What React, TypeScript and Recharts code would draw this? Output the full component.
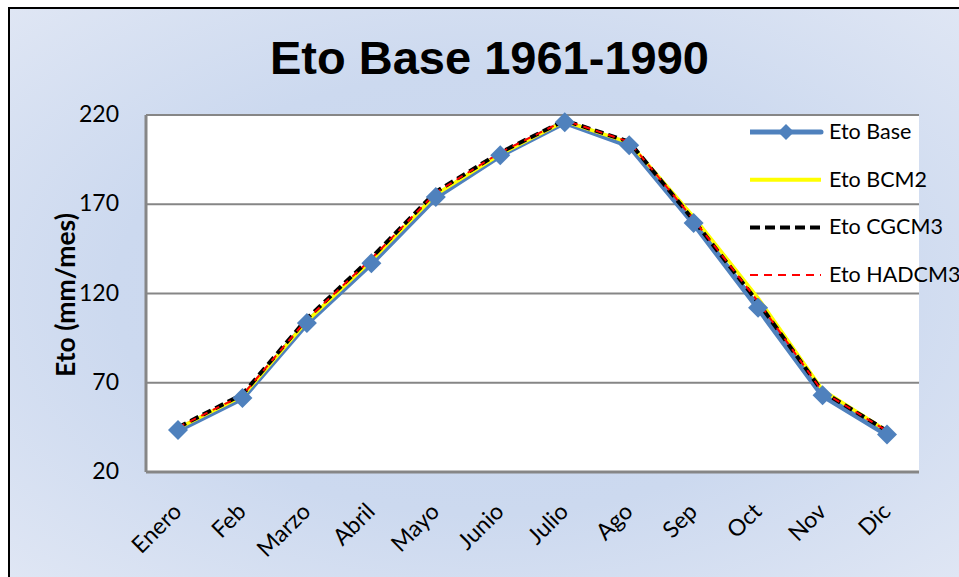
import React from 'react';
import { LineChart, Line, XAxis, YAxis, CartesianGrid } from 'recharts';

const months = ['Enero', 'Feb', 'Marzo', 'Abril', 'Mayo', 'Junio', 'Julio', 'Ago', 'Sep', 'Oct', 'Nov', 'Dic'];
const etoBase = [43.5, 61.5, 103.5, 137, 174, 197.5, 216, 203, 159.5, 112, 63, 41];
const etoBCM2 = [44.5, 62.5, 104.5, 138.5, 175.5, 198, 216.5, 204.5, 163, 117.5, 66, 43];
const etoCGCM3 = [45, 63.5, 106, 140, 177, 199, 217, 205, 161, 115, 65, 43];
const etoHADCM3 = [45, 63, 105.5, 139.5, 176.5, 199, 217, 205, 161.5, 115.5, 65, 43];
const yTicks = [20, 70, 120, 170, 220];

const data = months.map((m, i) => ({
  month: m,
  base: etoBase[i],
  bcm2: etoBCM2[i],
  cgcm3: etoCGCM3[i],
  hadcm3: etoHADCM3[i],
}));

const FONT = 'Lato, "Open Sans", sans-serif';
const BLUE = '#4F81BD';

const Diamond = (props: any) => {
  const { cx, cy } = props;
  if (cx == null || cy == null) return null;
  const r = 10;
  return <path d={`M${cx},${cy - r}L${cx + r},${cy}L${cx},${cy + r}L${cx - r},${cy}Z`} fill={BLUE} />;
};

const XTick = (props: any) => {
  const { x, y, payload } = props;
  const ax = x + 5;
  const ay = y + 33;
  return (
    <text x={ax} y={ay} transform={`rotate(-45 ${ax} ${ay})`} textAnchor="end"
      fontFamily={FONT} fontSize={23} fill="#000">
      {payload.value}
    </text>
  );
};

const YTick = (props: any) => {
  const { y, payload } = props;
  return (
    <text x={111} y={y + 7} textAnchor="end" fontFamily={FONT} fontSize={23} fill="#000">
      {payload.value}
    </text>
  );
};

const legendItems = [
  { label: 'Eto Base', color: BLUE, width: 5, dash: undefined, marker: true },
  { label: 'Eto BCM2', color: '#FFFF00', width: 4, dash: undefined, marker: false },
  { label: 'Eto CGCM3', color: '#000000', width: 4, dash: '10 5', marker: false },
  { label: 'Eto HADCM3', color: '#FF0000', width: 2, dash: '8 6', marker: false },
];

const LegendBox = () => (
  <svg width={220} height={180}>
    {legendItems.map((it, i) => {
      const y = 14 + i * 47.7;
      return (
        <g key={it.label}>
          <line x1={0} x2={71} y1={y} y2={y} stroke={it.color} strokeWidth={it.width}
            strokeDasharray={it.dash} strokeLinecap={it.marker ? 'round' : 'butt'} />
          {it.marker && <path d={`M36,${y - 8}L44,${y}L36,${y + 8}L28,${y}Z`} fill={BLUE} />}
          <text x={79} y={y + 7} fontFamily={FONT} fontSize={21.5} fill="#000">{it.label}</text>
        </g>
      );
    })}
  </svg>
);

export default function App() {
  return (
    <div style={{ width: 959, height: 577, boxSizing: 'border-box', padding: '7px 0 0 8px', background: '#fff' }}>
      <style>{'html, body { margin: 0; overflow: hidden; }'}</style>
      <div style={{
        position: 'relative', width: 951, height: 570, boxSizing: 'border-box',
        borderTop: '2px solid #000', borderLeft: '2px solid #000', overflow: 'hidden',
        background: 'radial-gradient(ellipse at 50% 50%, #c8d6ee 0%, #ccd9ef 55%, #dfe6f4 100%)',
      }}>
        <div style={{
          position: 'absolute', left: 4, width: 951, top: 21, textAlign: 'center',
          fontFamily: '"Liberation Sans", Arial, sans-serif', fontWeight: 'bold', fontSize: 47, color: '#000',
        }}>
          Eto Base 1961-1990
        </div>
        <div style={{
          position: 'absolute', left: 55 - 100, top: 286 - 15, width: 200, height: 30, lineHeight: '30px',
          textAlign: 'center', transform: 'rotate(-90deg)', fontFamily: FONT, fontWeight: 'bold',
          fontSize: 26.5, color: '#000',
        }}>
          Eto (mm/mes)
        </div>
        <div style={{ position: 'absolute', left: -2, top: -1 }}>
          <LineChart width={951} height={569} data={data}
            margin={{ top: 107, right: 40, bottom: 0, left: 0 }}>
            <CartesianGrid vertical={false} stroke="#868686" strokeWidth={2} fill="#ffffff" fillOpacity={1} />
            <XAxis dataKey="month" height={105} padding={{ left: 32, right: 32 }} tickLine={false}
              axisLine={{ stroke: '#868686', strokeWidth: 3 }} tick={<XTick />} interval={0} />
            <YAxis width={138} domain={[20, 220]} ticks={yTicks} tickLine={false}
              axisLine={{ stroke: '#868686', strokeWidth: 3 }} tick={<YTick />} />
            <Line dataKey="base" name="Eto Base" stroke={BLUE} strokeWidth={6} dot={<Diamond />}
              activeDot={false} isAnimationActive={false} />
            <Line dataKey="bcm2" name="Eto BCM2" stroke="#FFFF00" strokeWidth={3.5} dot={false}
              activeDot={false} isAnimationActive={false} />
            <Line dataKey="cgcm3" name="Eto CGCM3" stroke="#000000" strokeWidth={4} strokeDasharray="9 5"
              dot={false} activeDot={false} isAnimationActive={false} />
            <Line dataKey="hadcm3" name="Eto HADCM3" stroke="#FF0000" strokeWidth={2} strokeDasharray="7 6"
              dot={false} activeDot={false} isAnimationActive={false} />
          </LineChart>
        </div>
        <div style={{ position: 'absolute', left: 740, top: 109 }}>
          <LegendBox />
        </div>
      </div>
    </div>
  );
}
